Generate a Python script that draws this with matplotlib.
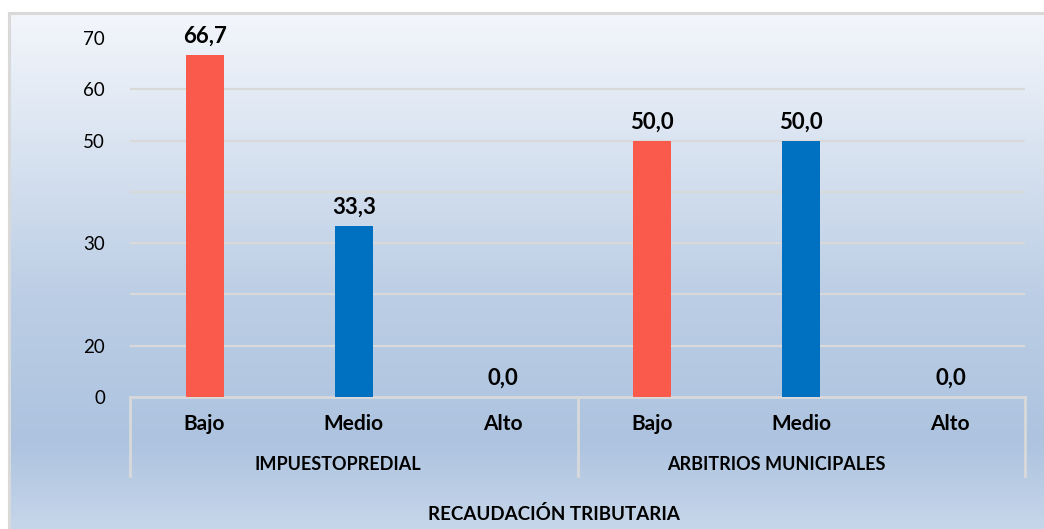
import numpy as np
import matplotlib.pyplot as plt
import matplotlib.transforms as mtransforms
from matplotlib.colors import LinearSegmentedColormap

# Data
levels = ['Bajo', 'Medio', 'Alto', 'Bajo', 'Medio', 'Alto']
groups = ['IMPUESTOPREDIAL', 'ARBITRIOS MUNICIPALES']
values = [66.7, 33.3, 0.0, 50.0, 50.0, 0.0]
bar_colors = ['#F95A4C', '#0070C0', '#0070C0', '#F95A4C', '#0070C0', '#0070C0']
y_ticks = [0, 10, 20, 30, 40, 50, 60, 70]
y_tick_labels = ['0', '20', '', '30', '', '50', '60', '70']
axis_title = 'RECAUDACIÓN TRIBUTARIA'

plt.rcParams['font.family'] = ['Lato', 'DejaVu Sans']

W, H = 1044, 529
fig = plt.figure(figsize=(W / 100, H / 100), dpi=100)
fig.patch.set_facecolor('white')

# gradient background of the chart area
bg = fig.add_axes([9 / W, 0, 1 - 9 / W, 1 - 13 / H], zorder=0)
cmap = LinearSegmentedColormap.from_list(
    'bg', [(0.0, '#c6d6ea'), (0.17, '#adc3df'), (0.45, '#bccee5'), (1.0, '#f3f6fb')])
grad = np.linspace(0, 1, 256).reshape(-1, 1)
bg.imshow(grad, aspect='auto', cmap=cmap, origin='lower', extent=[0, 1, 0, 1])
bg.set_axis_off()

# outer frame (top and left edges visible)
fig.add_artist(plt.Line2D([8.5 / W, 1], [1 - 13 / H, 1 - 13 / H], color='#d9d9d9', lw=2.2))
fig.add_artist(plt.Line2D([8.5 / W, 8.5 / W], [0, 1 - 13 / H], color='#d9d9d9', lw=2.2))

left, right = 130 / W, 1025 / W
bottom, top = 1 - 397 / H, 1 - 38 / H
ax = fig.add_axes([left, bottom, right - left, top - bottom], zorder=1)
ax.patch.set_alpha(0)

x = np.arange(len(values))
ax.bar(x, values, width=0.255, color=bar_colors, zorder=3)

for xi, v in zip(x, values):
    ax.annotate(f'{v:.1f}'.replace('.', ','), (xi, v), xytext=(0, 6),
                textcoords='offset points', ha='center', va='bottom',
                fontsize=16, fontweight='bold', color='black')

ax.set_xlim(-0.5, len(values) - 0.5)
ax.set_ylim(0, 70)

# horizontal gridlines
for t in y_ticks[1:-1]:
    ax.axhline(t, color='#d9d9d9', lw=1.6, zorder=1)

for s in ax.spines.values():
    s.set_visible(False)

ax.set_yticks(y_ticks)
ax.set_yticklabels(y_tick_labels, fontsize=13.5)
ax.tick_params(axis='y', length=0, pad=18)
ax.set_xticks([])

# category axis with two levels
trans = mtransforms.blended_transform_factory(ax.transData, ax.transAxes)
px = 1 / (397 - 38)
ax.plot([-0.5, 5.5], [0, 0], transform=trans, color='#d9d9d9', lw=2, clip_on=False, zorder=2)
for sx in [-0.5, 2.5, 5.5]:
    ax.plot([sx, sx], [0, -79 * px], transform=trans, color='#d9d9d9', lw=2, clip_on=False)

for xi, lab in zip(x, levels):
    ax.text(xi, -27 * px, lab, transform=trans, ha='center', va='center',
            fontsize=15, fontweight='bold')

# group labels sit a little left of the group centre, as in the original
group_x = [0.89, 3.83]
for gx, g in zip(group_x, groups):
    ax.text(gx, -68 * px, g, transform=trans, ha='center', va='center',
            fontsize=13, fontweight='bold')

fig.text(554 / W, 1 - 514 / H, axis_title, ha='center', va='center',
         fontsize=13.5, fontweight='bold')

fig.savefig('out.png', dpi=100)
